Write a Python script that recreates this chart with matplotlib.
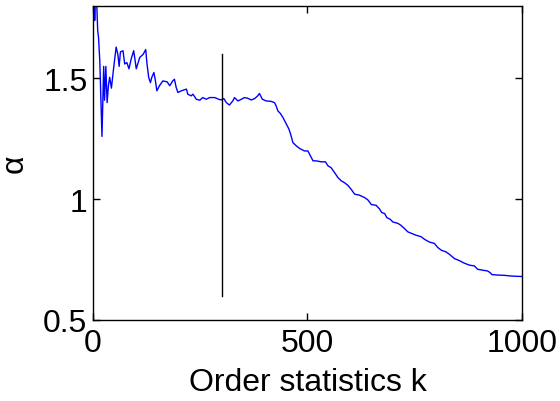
import matplotlib
matplotlib.use('Agg')
import matplotlib.pyplot as plt

# valores (orden k, estimacion de alpha)
k_vals = [1, 4, 7, 9, 11, 13, 16, 18, 21, 23, 25, 27, 30, 33, 36, 39, 43, 48,
          54, 58, 61, 64, 70, 74, 79, 84, 89, 95, 101, 109, 117, 123, 126, 130,
          134, 137, 142, 145, 149, 155, 163, 173, 179, 186, 190, 194, 198, 206,
          218, 221, 229, 233, 241, 249, 256, 264, 272, 284, 293, 299, 305, 311,
          318, 326, 330, 338, 346, 353, 361, 369, 377, 384, 388, 395, 404, 416,
          423, 427, 431, 437, 443, 451, 457, 462, 466, 474, 482, 493, 501, 507,
          513, 520, 532, 542, 548, 555, 563, 571, 579, 586, 594, 602, 610, 621,
          633, 641, 649, 660, 668, 673, 680, 685, 693, 699, 711, 718, 726, 734,
          742, 753, 765, 773, 784, 796, 804, 812, 823, 831, 843, 854, 866, 878,
          889, 897, 909, 920, 926, 930, 944, 959, 975, 1000]
alpha_vals = [2.30, 1.74, 2.05, 1.80, 1.70, 1.67, 1.57, 1.45, 1.26, 1.40, 1.55,
              1.41, 1.55, 1.40, 1.47, 1.505, 1.46, 1.54, 1.63, 1.60, 1.55, 1.61,
              1.615, 1.56, 1.566, 1.54, 1.58, 1.615, 1.54, 1.587, 1.60, 1.62,
              1.56, 1.504, 1.483, 1.504, 1.525, 1.497, 1.449, 1.47, 1.49, 1.486,
              1.47, 1.49, 1.497, 1.463, 1.442, 1.449, 1.456, 1.435, 1.428, 1.435,
              1.414, 1.41, 1.421, 1.414, 1.421, 1.421, 1.414, 1.411, 1.417, 1.40,
              1.39, 1.407, 1.421, 1.407, 1.414, 1.421, 1.418, 1.411, 1.417, 1.428,
              1.438, 1.414, 1.407, 1.405, 1.40, 1.387, 1.366, 1.355, 1.338, 1.311,
              1.29, 1.262, 1.235, 1.221, 1.21, 1.20, 1.20, 1.179, 1.159, 1.159,
              1.155, 1.155, 1.138, 1.131, 1.111, 1.09, 1.076, 1.069, 1.058, 1.041,
              1.021, 1.017, 1.007, 0.997, 0.978, 0.975, 0.96, 0.945, 0.941, 0.924,
              0.917, 0.906, 0.90, 0.892, 0.879, 0.865, 0.859, 0.851, 0.845, 0.834,
              0.823, 0.817, 0.80, 0.789, 0.782, 0.772, 0.754, 0.746, 0.735, 0.727,
              0.724, 0.71, 0.706, 0.703, 0.696, 0.688, 0.686, 0.685, 0.682, 0.68]

# linea vertical de referencia
k_corte = 300
alpha_rango = [0.6, 1.6]

x_ticks = [0, 500, 1000]
y_ticks = [0.5, 1, 1.5]

plt.rcParams['font.family'] = ['Liberation Sans', 'DejaVu Sans']

fig = plt.figure(figsize=(5.6, 4.02), dpi=100)
ax = fig.add_axes([0.166, 0.2015, 0.766, 0.781])

ax.plot(k_vals, alpha_vals, color='#0000ff', linewidth=1.0)
ax.plot([k_corte, k_corte], alpha_rango, color='black', linewidth=1.0)

ax.set_xlim(0, 1000)
ax.set_ylim(0.5, 1.8)
ax.set_xticks(x_ticks)
ax.set_xticklabels(['0', '500', '1000'])
ax.set_yticks(y_ticks)
ax.set_yticklabels(['0.5', '1', '1.5'])
ax.tick_params(direction='in', length=5, width=1, top=True, right=True,
               labelsize=23)
ax.tick_params(axis='x', pad=6)
ax.tick_params(axis='y', pad=4)
for s in ax.spines.values():
    s.set_linewidth(1.0)

ax.set_xlabel('Order statistics k', fontsize=23, labelpad=6)
ax.set_ylabel('α', fontsize=23, labelpad=10)

fig.savefig('out.png', dpi=100)
